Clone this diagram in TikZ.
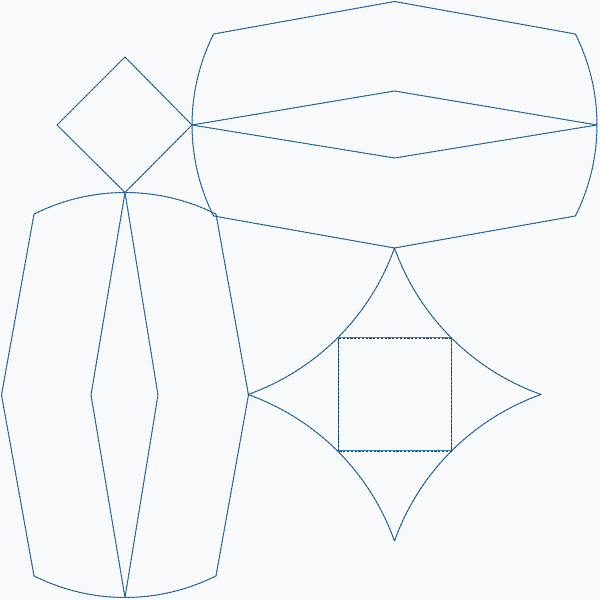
\documentclass[tikz,border=0pt]{standalone}
\begin{document}
\begin{tikzpicture}[x=1pt,y=1pt,
  ink/.style={draw=lineblue,line width=1pt,line join=round,
    postaction={draw=dashdark,line width=0.5pt,dash pattern=on 2.2pt off 1.6pt}}]
\definecolor{lineblue}{HTML}{3A82BE}
\definecolor{dashdark}{HTML}{1C3A5E}
\definecolor{bg}{HTML}{F8F9FA}
\fill[bg] (0,0) rectangle (600,600);
\useasboundingbox (0,0) rectangle (600,600);
% small diamond
\coordinate (dT) at (125,543);
\coordinate (dL) at (57,475);
\coordinate (dR) at (192,475);
\coordinate (dB) at (125,407.5);
\draw[ink] (dT) -- (dL) -- (dB) -- (dR) -- cycle;
% horizontal shape (top right)
\coordinate (H) at (394.5,475);
\coordinate (hT) at (394.5,598.5);
\coordinate (hB) at (394.5,352);
\coordinate (hIT) at (394.5,509);
\coordinate (hIB) at (394.5,442);
\coordinate (hL) at ([shift={(180:202.5pt)}]H);
\coordinate (hR) at ([shift={(0:202.5pt)}]H);
\draw[ink] ([shift={(26.7:202.5pt)}]H) -- (hT) -- ([shift={(153.3:202.5pt)}]H)
  arc[start angle=153.3,end angle=206.7,radius=202.5pt]
  -- (hB) -- ([shift={(-26.7:202.5pt)}]H)
  arc[start angle=-26.7,end angle=26.7,radius=202.5pt];
\draw[ink] (hL) -- (hIT) -- (hR) -- (hIB) -- cycle;
% vertical shape (left)
\coordinate (V) at (125,205);
\coordinate (vL) at (1.5,205);
\coordinate (vR) at (248.5,205);
\coordinate (vIL) at (91,205);
\coordinate (vIR) at (158,205);
\coordinate (vT) at ([shift={(90:202.5pt)}]V);
\coordinate (vB) at ([shift={(270:202.5pt)}]V);
\draw[ink] ([shift={(63.3:202.5pt)}]V)
  arc[start angle=63.3,end angle=116.7,radius=202.5pt]
  -- (vL) -- ([shift={(243.3:202.5pt)}]V)
  arc[start angle=243.3,end angle=296.7,radius=202.5pt]
  -- (vR) -- cycle;
\draw[ink] (vT) -- (vIL) -- (vB) -- (vIR) -- cycle;
% star
\coordinate (S) at (394.5,205.5);
\coordinate (sT) at (394.5,352);
\coordinate (sL) at (248,205.5);
\coordinate (sB) at (394.5,59);
\coordinate (sR) at (541,205.5);
\draw[ink] (sT) .. controls +(-24.5,-68.5) and +(68.5,24.5) .. (sL)
  .. controls +(68.5,-24.5) and +(-24.5,68.5) .. (sB)
  .. controls +(24.5,68.5) and +(-68.5,-24.5) .. (sR)
  .. controls +(-68.5,24.5) and +(24.5,-68.5) .. (sT);
\coordinate (q1) at (338,149);
\coordinate (q2) at (451,262);
\draw[ink] (q1) rectangle (q2);
\end{tikzpicture}
\end{document}
